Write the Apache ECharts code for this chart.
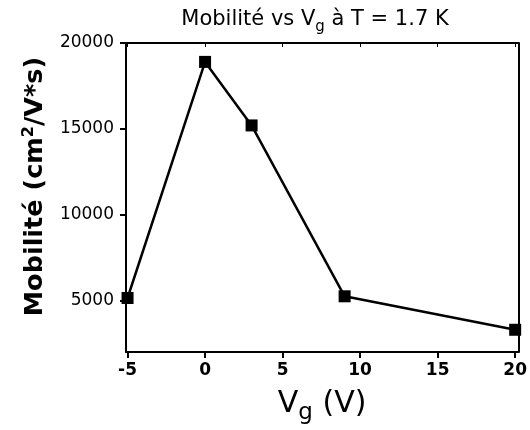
<!DOCTYPE html>
<html>
<head>
<meta charset="utf-8">
<script src="https://cdn.jsdelivr.net/npm/echarts@6/dist/echarts.min.js"></script>
<style>
  html, body { margin: 0; padding: 0; background: #fff; }
  #chart { width: 530px; height: 430px; }
</style>
</head>
<body>
<div id="chart"></div>
<script>
// Gate voltage (V) and measured mobility (cm²/V·s) at T = 1.7 K
const gateVoltage = [-5, 0, 3, 9, 20];
const mobility = [5150, 18900, 15200, 5250, 3300];
const xTicks = [-5, 0, 5, 10, 15, 20];
const yTicks = [5000, 10000, 15000, 20000];

const FONT = 'DejaVu Sans, Verdana, sans-serif';
const chart = echarts.init(document.getElementById('chart'), null, { renderer: 'canvas' });

const points = gateVoltage.map((v, i) => [v, mobility[i]]);

const frameLine = { show: true, onZero: false, lineStyle: { color: '#000', width: 2 } };

chart.setOption({
  animation: false,
  backgroundColor: '#fff',
  title: {
    text: '{t|Mobilité vs V}{s|g}{t| à T = 1.7 K}',
    left: 310,
    top: 2,
    textAlign: 'center',
    textStyle: {
      rich: {
        t: { fontFamily: FONT, fontSize: 21, fontWeight: 'normal', color: '#000', lineHeight: 26 },
        s: { fontFamily: FONT, fontSize: 15, fontWeight: 'normal', color: '#000', lineHeight: 26, padding: [14, 0, 0, 0] }
      }
    }
  },
  grid: { left: 126, right: 8, top: 43, bottom: 72 },
  xAxis: [{
    type: 'value',
    min: -5.1,
    max: 20.2,
    position: 'bottom',
    axisLine: frameLine,
    splitLine: { show: false },
    axisTick: { show: true, inside: false, length: 6, lineStyle: { color: '#000', width: 2 }, customValues: xTicks },
    axisLabel: { customValues: xTicks, fontFamily: FONT, fontSize: 17, fontWeight: 'bold', color: '#000', margin: 10 },
    name: '{v|V}{g|g}{v| (V)}',
    nameLocation: 'middle',
    nameGap: 30,
    nameTextStyle: {
      rich: {
        v: { fontFamily: FONT, fontSize: 30, color: '#000', lineHeight: 34 },
        g: { fontFamily: FONT, fontSize: 23, color: '#000', lineHeight: 34, padding: [18, 0, 0, 0] }
      }
    }
  }, {
    type: 'value',
    min: -5.1,
    max: 20.2,
    position: 'top',
    axisLine: frameLine,
    splitLine: { show: false },
    axisTick: { show: true, inside: true, length: 4, lineStyle: { color: '#000', width: 1 }, customValues: xTicks },
    axisLabel: { show: false }
  }],
  yAxis: [{
    type: 'value',
    min: 2000,
    max: 20000,
    position: 'left',
    axisLine: frameLine,
    splitLine: { show: false },
    axisTick: { show: true, inside: false, length: 6, lineStyle: { color: '#000', width: 2 }, customValues: yTicks },
    axisLabel: { customValues: yTicks, formatter: v => String(v), fontFamily: FONT, fontSize: 17, color: '#000', margin: 12 },
    name: '{m|Mobilité (cm}{p|2}{m|/V*s)}',
    nameLocation: 'middle',
    nameRotate: 90,
    nameGap: 72,
    nameTextStyle: {
      padding: [0, 0, 0, 22],
      rich: {
        m: { fontFamily: FONT, fontSize: 25.5, fontWeight: 'bold', color: '#000', lineHeight: 30 },
        p: { fontFamily: FONT, fontSize: 16, fontWeight: 'bold', color: '#000', lineHeight: 30, padding: [0, 0, 12, 0] }
      }
    }
  }, {
    type: 'value',
    min: 2000,
    max: 20000,
    position: 'right',
    axisLine: frameLine,
    splitLine: { show: false },
    axisTick: { show: false },
    axisLabel: { show: false }
  }],
  series: [{
    type: 'line',
    data: points,
    xAxisIndex: 0,
    yAxisIndex: 0,
    symbol: 'rect',
    symbolSize: 12,
    itemStyle: { color: '#000' },
    lineStyle: { color: '#000', width: 2.5 }
  }]
});
</script>
</body>
</html>
